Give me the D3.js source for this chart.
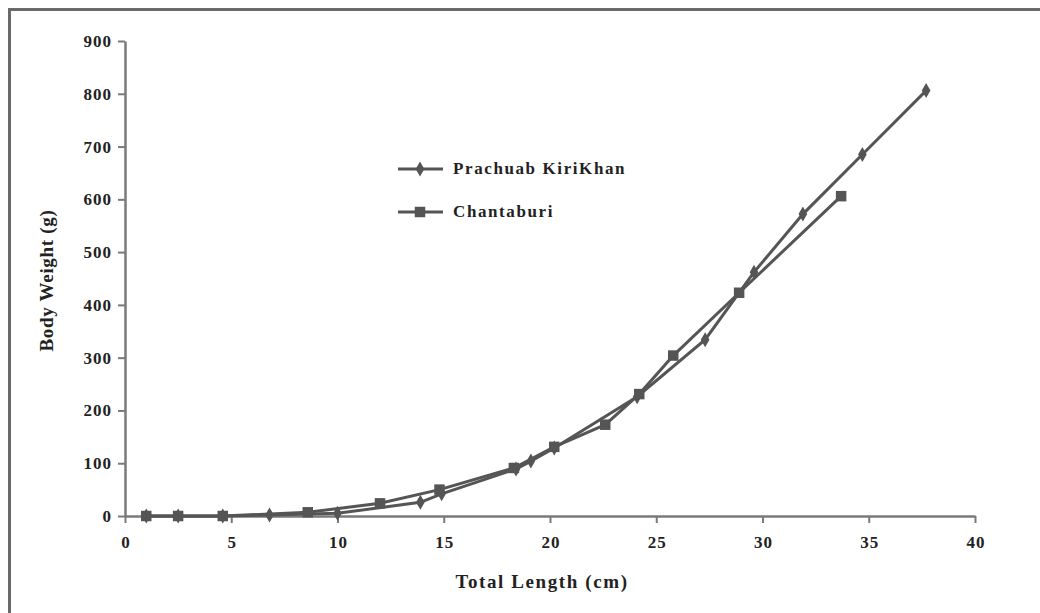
<!DOCTYPE html>
<html>
<head>
<meta charset="utf-8">
<script src="https://cdn.jsdelivr.net/npm/d3@7"></script>
<style>
  body { margin: 0; background: #fff; }
  svg { display: block; }
  text { font-family: "Liberation Serif", "Times New Roman", serif; fill: #222; }
</style>
</head>
<body>
<svg id="chart" width="1040" height="613"></svg>
<script>
// Prachuab KiriKhan (diamonds)
const prachuabLength = [1.0, 2.5, 4.6, 6.8, 10.0, 13.9, 14.9, 18.4, 19.1, 20.2, 24.1, 27.3, 29.6, 31.9, 34.7, 37.7];
const prachuabWeight = [0, 0, 0, 2, 5, 26, 42, 89, 104, 129, 226, 334, 462, 572, 685, 806];
// Chantaburi (squares)
const chantaLength = [1.0, 2.5, 4.6, 8.6, 12.0, 14.8, 18.3, 20.2, 22.6, 24.2, 25.8, 28.9, 33.7];
const chantaWeight = [0, 0, 0, 7, 24, 50, 91, 131, 173, 231, 304, 423, 606];

const xTicks = [0, 5, 10, 15, 20, 25, 30, 35, 40];
const yTicks = [0, 100, 200, 300, 400, 500, 600, 700, 800, 900];
const seriesNames = ['Prachuab KiriKhan', 'Chantaburi'];

const svg = d3.select('#chart');
const margin = {left: 125, right: 65, top: 41, bottom: 97};
const width = 1040, height = 613;

// frame
svg.append('path')
  .attr('d', `M9.5,${height}V9.5H${width}`)
  .attr('fill', 'none').attr('stroke', '#6a6a6a').attr('stroke-width', 3);

const x = d3.scaleLinear().domain([0, 40]).range([margin.left, width - margin.right]);
const y = d3.scaleLinear().domain([0, 900]).range([height - margin.bottom, margin.top]);

const xAxis = d3.axisBottom(x).tickValues(xTicks).tickSize(7).tickSizeOuter(0).tickPadding(13);
const yAxis = d3.axisLeft(y).tickValues(yTicks).tickSize(7).tickSizeOuter(0).tickPadding(6);

const gx = svg.append('g').attr('transform', `translate(0,${y(0)})`).call(xAxis);
const gy = svg.append('g').attr('transform', `translate(${x(0)},0)`).call(yAxis);

[gx, gy].forEach(g => {
  g.select('.domain').attr('stroke', '#7a7a7a').attr('stroke-width', 2.5);
  g.selectAll('.tick line').attr('stroke', '#7a7a7a').attr('stroke-width', 2);
  g.selectAll('.tick text')
    .style('font-family', '"Liberation Serif", serif')
    .style('font-size', '17px').style('font-weight', 'bold')
    .style('letter-spacing', '1px').attr('fill', '#222');
});
gx.selectAll('.tick text').attr('dx', '0.5');

svg.append('text')
  .attr('x', 542).attr('y', 588)
  .attr('text-anchor', 'middle')
  .style('font-size', '19px').style('font-weight', 'bold').style('letter-spacing', '1.6px')
  .text('Total Length (cm)');

svg.append('text')
  .attr('transform', `translate(53,${(y(0) + y(900)) / 2 + 2}) rotate(-90)`)
  .attr('text-anchor', 'middle')
  .style('font-size', '19px').style('font-weight', 'bold').style('letter-spacing', '0.7px')
  .text('Body Weight (g)');

const line = d3.line().x(d => x(d[0])).y(d => y(d[1]));
const lineColor = '#555';

const prachuab = prachuabLength.map((v, i) => [v, prachuabWeight[i]]);
const chanta = chantaLength.map((v, i) => [v, chantaWeight[i]]);

svg.append('path').datum(prachuab).attr('d', line)
  .attr('fill', 'none').attr('stroke', lineColor).attr('stroke-width', 3);
svg.append('path').datum(chanta).attr('d', line)
  .attr('fill', 'none').attr('stroke', lineColor).attr('stroke-width', 3);

const diamond = d3.symbol().type(d3.symbolDiamond).size(65);
const square = d3.symbol().type(d3.symbolSquare).size(110);

svg.append('g').selectAll('path').data(prachuab).join('path')
  .attr('d', diamond)
  .attr('transform', d => `translate(${x(d[0])},${y(d[1])})`)
  .attr('fill', lineColor);

svg.append('g').selectAll('path').data(chanta).join('path')
  .attr('d', square)
  .attr('transform', d => `translate(${x(d[0])},${y(d[1])})`)
  .attr('fill', lineColor);

// legend
const legend = svg.append('g').attr('transform', 'translate(398,169)');
seriesNames.forEach((name, i) => {
  const g = legend.append('g').attr('transform', `translate(0,${i * 43})`);
  g.append('line').attr('x1', 0).attr('x2', 45).attr('y1', 0).attr('y2', 0)
    .attr('stroke', lineColor).attr('stroke-width', 3);
  g.append('path').attr('d', i === 0 ? diamond : square)
    .attr('transform', 'translate(22,0)').attr('fill', lineColor);
  g.append('text').attr('x', 55).attr('y', 5)
    .style('font-size', '17px').style('font-weight', 'bold').style('letter-spacing', '1.6px')
    .text(name);
});
</script>
</body>
</html>
